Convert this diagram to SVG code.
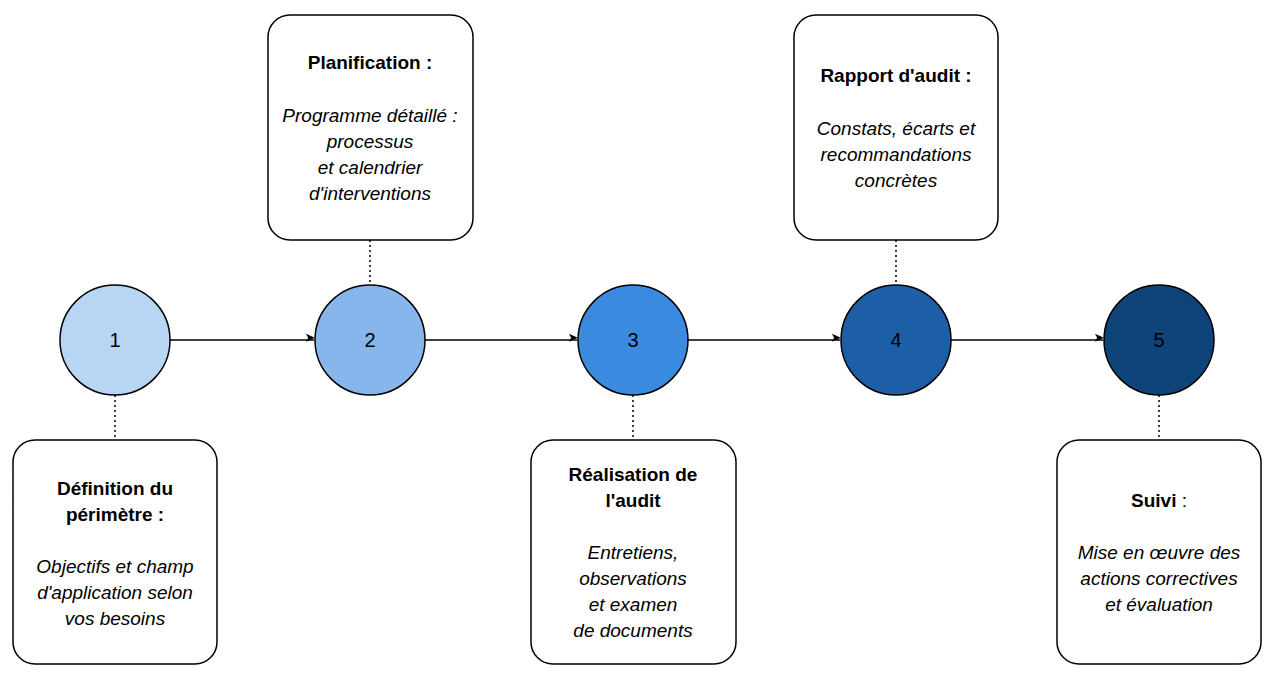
<svg xmlns="http://www.w3.org/2000/svg" width="1273" height="673" viewBox="0 0 1273 673">
<defs>
<marker id="ah" viewBox="0 0 10 10" refX="9" refY="5" markerWidth="9" markerHeight="9" orient="auto" markerUnits="userSpaceOnUse" style="overflow:visible"><path d="M0,0 L20,9 L0,18 L5,9 Z" transform="scale(0.5) translate(0,-4)" fill="#000"/></marker>
</defs>
<style>
.c{stroke:#000;stroke-width:1.5}
.b{fill:#fff;stroke:#000;stroke-width:1.5}
.t{font-family:"Liberation Sans",Arial,sans-serif;font-size:19px;text-anchor:middle;fill:#000}
.h{font-weight:bold}
.i{font-style:italic}
.d{stroke:#000;stroke-width:1.5;stroke-dasharray:2 3;fill:none}
.n{font-family:"Liberation Sans",Arial,sans-serif;font-size:20px;text-anchor:middle;fill:#000}
</style>
<rect width="1273" height="673" fill="#fff"/>
<g id="connectors">
<line class="c" x1="170" y1="340" x2="314" y2="340" marker-end="url(#ah)"/>
<line class="c" x1="425" y1="340" x2="577" y2="340" marker-end="url(#ah)"/>
<line class="c" x1="688" y1="340" x2="840" y2="340" marker-end="url(#ah)"/>
<line class="c" x1="951" y1="340" x2="1103" y2="340" marker-end="url(#ah)"/>
<line class="d" x1="115" y1="395" x2="115" y2="440"/>
<line class="d" x1="370" y1="240" x2="370" y2="285"/>
<line class="d" x1="633" y1="395" x2="633" y2="440"/>
<line class="d" x1="896" y1="240" x2="896" y2="285"/>
<line class="d" x1="1159" y1="395" x2="1159" y2="440"/>
</g>
<g id="n1"><circle class="c" cx="115" cy="340" r="55" fill="#b8d5f4"/><text class="n" x="115" y="347">1</text></g>
<g id="n2"><circle class="c" cx="370" cy="340" r="55" fill="#86b6eb"/><text class="n" x="370" y="347">2</text></g>
<g id="n3"><circle class="c" cx="633" cy="340" r="55" fill="#3a8ae0"/><text class="n" x="633" y="347">3</text></g>
<g id="n4"><circle class="c" cx="896" cy="340" r="55" fill="#1d5fa6"/><text class="n" x="896" y="347">4</text></g>
<g id="n5"><circle class="c" cx="1159" cy="340" r="55" fill="#0e4479"/><text class="n" x="1159" y="347">5</text></g>
<g id="b1"><rect class="b" x="13" y="440" width="204" height="224" rx="22"/>
<text class="t h" x="115" y="495">Définition du</text><text class="t h" x="115" y="521">périmètre :</text>
<text class="t i" x="115" y="573">Objectifs et champ</text><text class="t i" x="115" y="599">d'application selon</text><text class="t i" x="115" y="625">vos besoins</text></g>
<g id="b2"><rect class="b" x="268" y="15" width="205" height="225" rx="22"/>
<text class="t h" x="370" y="69">Planification :</text>
<text class="t i" x="370" y="122">Programme détaillé :</text><text class="t i" x="370" y="148">processus</text><text class="t i" x="370" y="174">et calendrier</text><text class="t i" x="370" y="200">d'interventions</text></g>
<g id="b3"><rect class="b" x="531" y="440" width="205" height="224" rx="22"/>
<text class="t h" x="633" y="481">Réalisation de</text><text class="t h" x="633" y="507">l'audit</text>
<text class="t i" x="633" y="559">Entretiens,</text><text class="t i" x="633" y="585">observations</text><text class="t i" x="633" y="611">et examen</text><text class="t i" x="633" y="637">de documents</text></g>
<g id="b4"><rect class="b" x="794" y="15" width="204" height="225" rx="22"/>
<text class="t h" x="896" y="82">Rapport d'audit :</text>
<text class="t i" x="896" y="135">Constats, écarts et</text><text class="t i" x="896" y="161">recommandations</text><text class="t i" x="896" y="187">concrètes</text></g>
<g id="b5"><rect class="b" x="1057" y="440" width="204" height="224" rx="22"/>
<text class="t" x="1159" y="507"><tspan class="h">Suivi</tspan> :</text>
<text class="t i" x="1159" y="559">Mise en œuvre des</text><text class="t i" x="1159" y="585">actions correctives</text><text class="t i" x="1159" y="611">et évaluation</text></g>
</svg>
